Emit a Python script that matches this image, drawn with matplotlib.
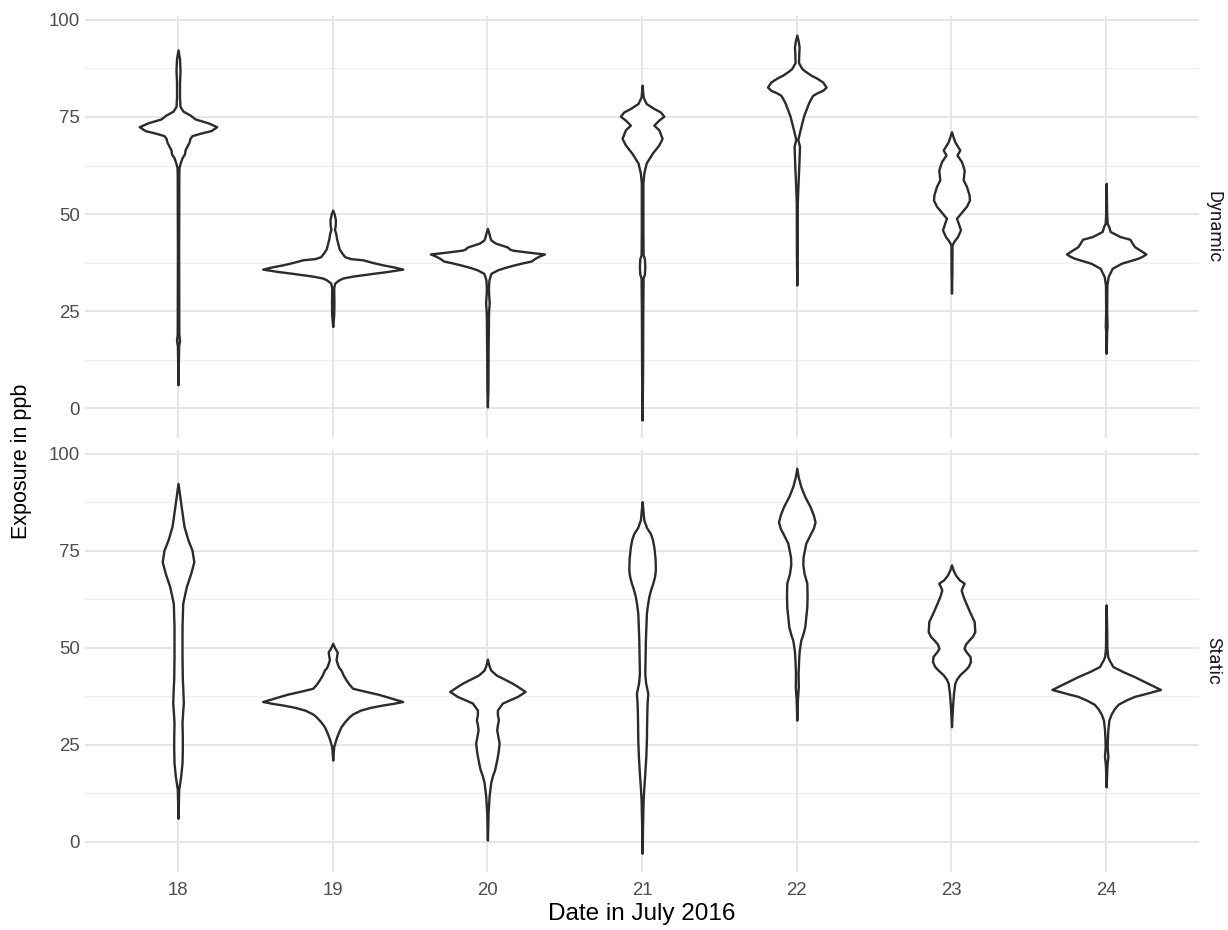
import matplotlib
matplotlib.use("Agg")
import matplotlib.pyplot as plt
from matplotlib import font_manager

# ---------------- data ----------------
dates = ["18", "19", "20", "21", "22", "23", "24"]
facets = ["Dynamic", "Static"]
y_major = [0, 25, 50, 75, 100]
y_minor = [12.5, 37.5, 62.5, 87.5]
x_label = "Date in July 2016"
y_label = "Exposure in ppb"

# violin profiles: (exposure in ppb, relative density)
dyn_18 = [(92.3, 0), (90, 1.5), (87, 2), (84, 1.5), (80, 1.5), (77.7, 2), (76.5, 5), (75.5, 12),
          (74.5, 17), (73.5, 30), (72.5, 38.7), (71.5, 33), (70.8, 22), (70.2, 14), (69.5, 12),
          (68.5, 11), (67.5, 9), (66.5, 7), (65.5, 6.5), (64.5, 4), (63, 2), (62, 1), (60, 0.8),
          (40, 0.6), (19, 0.8), (17.5, 1.5), (16, 0.6), (6, 0)]
dyn_19 = [(51, 0), (50, 1.5), (48.5, 2.7), (47, 2.5), (46, 1.8), (45, 3), (43.5, 4), (42.5, 5),
          (41, 6.5), (40, 9), (39, 12), (38.5, 18), (38.2, 30), (37.5, 40), (36.9, 50), (36.3, 62),
          (35.8, 70), (35.2, 55), (34.7, 40), (34, 20), (33.5, 10), (33, 6), (32.2, 2), (31, 1),
          (27, 1.2), (24, 1.0), (21, 0)]
dyn_20 = [(46.3, 0), (45, 1.5), (44, 2.5), (43.3, 3.5), (42.5, 8), (42, 14), (41.5, 20), (41, 22),
          (40.7, 25), (40.2, 40), (39.7, 57), (39.2, 52), (38.5, 47), (37.9, 44), (37.4, 35),
          (36.9, 27), (36.2, 17), (35.6, 10), (34.7, 3.5), (33.5, 2), (33, 1.5), (31, 1),
          (29.5, 1.2), (27, 1.8), (25, 1.2), (22, 1), (15, 0.7), (5, 0.5), (0.3, 0)]
dyn_21 = [(83.2, 0), (80.2, 1), (78.5, 4), (77.2, 11.7), (76.3, 18.3), (75.2, 21.7), (74.2, 16.7),
          (72.9, 11.7), (71.7, 16.7), (69.5, 20), (67.8, 16.7), (65.6, 10), (63.1, 4), (60.5, 1.7),
          (58, 0.8), (45, 0.8), (39.5, 1), (38.5, 2.3), (36.5, 2.7), (34.5, 2.3), (33.5, 1),
          (25, 0.7), (10, 0.5), (-3.1, 0)]
dyn_22 = [(96.1, 0), (94.5, 1.5), (93, 2.3), (91.5, 2), (89, 1.7), (87.5, 5), (86.8, 8.3),
          (85.8, 14), (85, 20), (84, 26), (82.7, 29.3), (81.9, 26), (81.2, 20), (80.6, 16),
          (80.2, 15), (79.5, 13.5), (78.6, 11.7), (75.2, 6.7), (71.7, 3.3), (69.2, 1), (67.5, 2.7),
          (62.3, 2), (56.3, 1), (52.8, 0.5), (40, 0.4), (31.7, 0)]
dyn_23 = [(71.2, 0), (70, 1.5), (68.6, 3.3), (66.5, 8.3), (65.2, 5.5), (63.5, 10), (61.3, 12.7),
          (58.8, 11.7), (57.1, 15), (55, 17.5), (53.6, 18), (52, 15), (51, 11.7), (48.9, 5),
          (47.5, 7), (45.9, 9), (44.2, 6), (43, 2.5), (42, 0.5), (35, 0.4), (29.6, 0)]
dyn_24 = [(57.9, 0), (50, 0.5), (47.6, 1), (46.8, 2.5), (45.5, 4), (44.2, 13.7), (43.5, 23.7),
          (42.5, 26), (41.6, 28.3), (40.5, 35), (39.7, 39.7), (39.1, 36), (38.6, 31.7), (37.3, 15),
          (36, 6), (33.9, 2), (31.7, 0.7), (25, 0.5), (21, 0.9), (20, 0.5), (14.1, 0)]

sta_18 = [(92.4, 0), (90, 1.3), (87.3, 2.7), (84, 4.5), (81.3, 6), (77.8, 10), (75.2, 14),
          (72.2, 15.8), (69.2, 12.7), (65.8, 8.3), (61.5, 4.7), (55.5, 4), (47.8, 4), (42, 4.3),
          (40.1, 4.7), (35.8, 5.3), (33, 4.5), (30.7, 4), (27, 4.3), (23.8, 4.3), (20.4, 4),
          (17, 2.7), (13.6, 0.7), (6.1, 0)]
sta_19 = [(51.2, 0), (50, 2), (49, 4.5), (48, 4), (47, 3.3), (46, 4.5), (45, 6), (44.3, 8.3),
          (43, 10.5), (41.8, 13.3), (40.6, 16.5), (39.6, 20), (38.8, 33), (38.1, 45), (37.5, 53),
          (36.8, 62), (36.2, 70), (35.7, 60), (35.3, 50), (34.7, 38), (34, 28), (33, 20),
          (32.3, 16.7), (31, 12), (29.7, 8.3), (28.4, 6), (27.1, 4), (25.9, 2.5), (24.6, 1),
          (23, 0.5), (21.1, 0)]
sta_20 = [(47.1, 0), (45.5, 1.5), (44.3, 3.3), (43, 9), (41.8, 18.3), (40.9, 25), (40.1, 30),
          (38.8, 37.7), (37.5, 30), (36.6, 22), (35.8, 15), (34, 10), (32.8, 10), (31.5, 11),
          (30.2, 10), (28.9, 9.3), (27.2, 10.5), (25.5, 11.7), (23.8, 11), (22.1, 10), (20.4, 8.7),
          (18.7, 7.3), (17, 5), (15.3, 3.3), (11.9, 1.7), (7.6, 0.7), (0.5, 0)]
sta_21 = [(87.7, 0), (85, 1), (83, 1.7), (81, 4.5), (79.5, 8.3), (78, 10.3), (76.1, 11.7),
          (73, 13), (70.1, 13.3), (68.5, 12.5), (66.7, 10.7), (65, 8.5), (63.2, 6.7), (61, 5.3),
          (58.9, 4.3), (55, 3.7), (52, 3.3), (48, 3), (43.5, 2.7), (41, 3.5), (38.3, 5.7),
          (35.8, 5), (33.1, 4.7), (30, 4.5), (26.3, 4.3), (22, 3.7), (17.7, 2.7), (14, 1.7),
          (10.8, 1), (5, 0.5), (-2.9, 0)]
sta_22 = [(96.3, 0), (94, 1.5), (91.6, 4), (89, 8), (86.4, 13.3), (84.3, 16.5), (82.5, 18.3),
          (80.8, 16.5), (79.6, 14), (77, 9), (73.5, 6.3), (71.5, 6), (69.2, 7.3), (66.7, 10),
          (63.5, 10.3), (60.6, 10), (58, 9), (55.5, 8), (53.5, 6), (52, 4), (49.5, 2.5), (47.8, 2),
          (43.5, 1.3), (40, 1.5), (36.6, 0.6), (31.4, 0)]
sta_23 = [(71.4, 0), (70.2, 1.5), (68.8, 4), (67.5, 8), (66.7, 12.7), (65.8, 11), (64.9, 9.7),
          (63.2, 11.7), (61.5, 14.5), (59.8, 17.3), (58.3, 20), (56.8, 22.7), (54.2, 23.3),
          (53, 21), (52, 17.3), (51, 14), (49.9, 12.5), (48.9, 15), (47.8, 18.5), (46.5, 19),
          (45.2, 16.7), (44.2, 13), (43.1, 8.3), (41.9, 5), (40.9, 3.3), (38.3, 2), (34.9, 1),
          (29.7, 0)]
sta_24 = [(61.1, 0), (55, 0.5), (50, 0.7), (47.8, 1.5), (46.9, 3), (45.2, 6.7), (43.9, 16.7),
          (42.6, 28.3), (40.9, 41.7), (39.3, 54.3), (38.3, 40), (37.5, 28), (36.6, 20), (35.5, 12),
          (34.4, 8.3), (33, 5), (31.4, 2.7), (29, 1.7), (27.1, 1.3), (24.6, 1), (22, 1.7),
          (20.5, 1), (19.4, 0.7), (14.2, 0)]

dynamic = [dyn_18, dyn_19, dyn_20, dyn_21, dyn_22, dyn_23, dyn_24]
static = [sta_18, sta_19, sta_20, sta_21, sta_22, sta_23, sta_24]

# ---------------- style ----------------
names = {f.name for f in font_manager.fontManager.ttflist}
base_font = "Liberation Sans"
narrow_font = "Liberation Sans Narrow" if "Liberation Sans Narrow" in names else base_font
strip_font = "Roboto" if "Roboto" in names else base_font

MAX_HALF = 0.4526      # widest violin half-width in category units
ylim = (-7.7, 101.0)
grid_major = "#E6E6E6"
grid_minor = "#EEEEEE"
outline = "#2B2B2B"

W, H = 1228, 930
fig = plt.figure(figsize=(W / 100, H / 100), dpi=100)
fig.patch.set_facecolor("white")

left = 85.2 / W
width = (1199.0 - 85.2) / W
ax_top = fig.add_axes([left, 0.5291, width, 0.4536])
ax_bot = fig.add_axes([left, 0.0625, width, 0.4536])

dmax = max(d for group in (dynamic, static) for prof in group for _, d in prof)

for ax, group, name in ((ax_top, dynamic, facets[0]), (ax_bot, static, facets[1])):
    ax.set_facecolor("white")
    ax.set_xlim(0.4, len(dates) + 0.6)
    ax.set_ylim(*ylim)
    for s in ax.spines.values():
        s.set_visible(False)
    for v in y_minor:
        ax.axhline(v, color=grid_minor, lw=0.9, zorder=0)
    for v in y_major:
        ax.axhline(v, color=grid_major, lw=1.4, zorder=0.5)
    for i in range(len(dates)):
        ax.axvline(i + 1, color=grid_major, lw=1.4, zorder=0.5)
    for i, prof in enumerate(group):
        ys = [p[0] for p in prof]
        hw = [p[1] / dmax * MAX_HALF for p in prof]
        xl = [i + 1 - h for h in hw]
        xr = [i + 1 + h for h in hw]
        pc = ax.fill_betweenx(ys, xl, xr, facecolor="white", edgecolor=outline,
                              linewidth=1.7, zorder=3)
        pc.set_joinstyle("round")
    ax.set_yticks(y_major)
    ax.set_yticklabels([str(v) for v in y_major])
    ax.set_xticks(range(1, len(dates) + 1))
    ax.tick_params(axis="both", length=0, labelsize=13.4, labelcolor="#4D4D4D")
    ax.tick_params(axis="y", pad=4)
    ax.tick_params(axis="x", pad=7)
    for lab in ax.get_yticklabels() + ax.get_xticklabels():
        lab.set_fontfamily(base_font)
    ax.text(1.0126, 0.5, name, rotation=-90, transform=ax.transAxes, ha="center",
            va="center", fontsize=13.4, color="#1A1A1A", fontfamily=strip_font)

ax_top.set_xticklabels([])
ax_bot.set_xticklabels(dates)
for lab in ax_bot.get_xticklabels():
    lab.set_fontfamily(base_font)

fig.text((85.2 + 1199.0) / 2 / W, 1 - 914 / H, x_label, ha="center", va="center",
         fontsize=17.5, color="black", fontfamily=base_font)
ysize = 18 if narrow_font != base_font else 15.5
fig.text(22 / W, 1 - 461 / H, y_label, ha="center", va="center", rotation=90,
         fontsize=ysize, color="black", fontfamily=narrow_font)

fig.savefig("out.png", dpi=100, facecolor="white")
